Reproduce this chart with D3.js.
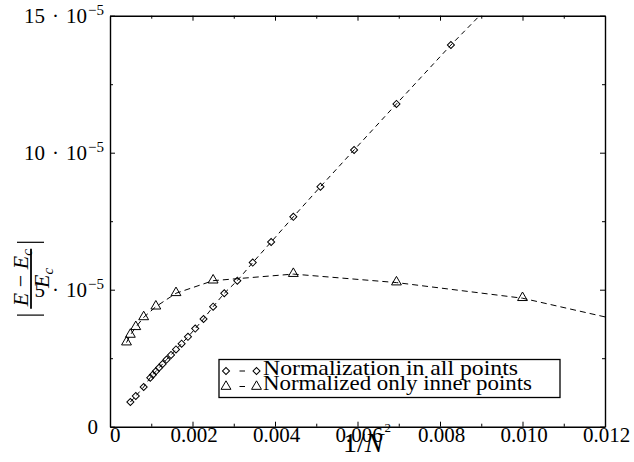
<!DOCTYPE html>
<html>
<head>
<meta charset="utf-8">
<script src="https://cdn.jsdelivr.net/npm/d3@7"></script>
<style>
  body { margin: 0; background: #fff; }
  svg text { font-family: "Liberation Serif", "Times New Roman", serif; fill: #000; }
</style>
</head>
<body>
<svg id="chart" width="634" height="462" font-family="Liberation Serif, serif"></svg>
<script>
// Values. x axis is 1/N^2, y is |E - Ec| / Ec
const allN = [10, 11, 12, 13, 14, 15, 16, 17, 18, 19, 20, 21, 22, 23, 24, 25, 26, 27, 28, 29, 30, 31, 32, 35, 40, 45]
const allErr = [16.6e-5, 13.93e-5, 11.78e-5, 10.10e-5, 8.76e-5, 7.66e-5, 6.74e-5, 5.99e-5, 5.33e-5, 4.87e-5,
  4.38e-5, 3.93e-5, 3.58e-5, 3.28e-5, 3.03e-5, 2.82e-5, 2.62e-5, 2.45e-5, 2.29e-5, 2.15e-5,
  2.02e-5, 1.90e-5, 1.79e-5, 1.45e-5, 1.12e-5, 0.90e-5]

const innerN = [8, 10, 12, 15, 20, 25, 30, 35, 40, 45, 50]
const innerErr = [2.77e-5, 4.69e-5, 5.26e-5, 5.57e-5, 5.33e-5, 4.87e-5, 4.38e-5, 3.99e-5, 3.63e-5, 3.35e-5, 3.07e-5]

const seriesNames = ["Normalization in all points", "Normalized only inner points"]

const xTicks = [0, 0.002, 0.004, 0.006, 0.008, 0.010, 0.012]
const xTickLabels = ["0", "0.002", "0.004", "0.006", "0.008", "0.010", "0.012"]
const xMinor = [0.001, 0.003, 0.005, 0.007, 0.009, 0.011]
const yTicks = [0, 5e-5, 10e-5, 15e-5]
const yTickLabels = ["0", "5", "10", "15"]
const yMinor = [2.5e-5, 7.5e-5, 12.5e-5]

let svg = d3.select("#chart")
let margin = {top: 15.7, right: 29, bottom: 35.3, left: 110}
let width = +svg.attr("width") - margin.left - margin.right
let height = +svg.attr("height") - margin.top - margin.bottom
let g = svg.append("g").attr("transform", "translate(" + margin.left + "," + margin.top + ")")

let x = d3.scaleLinear().domain([0, 0.012]).range([0, width])
let y = d3.scaleLinear().domain([0, 15e-5]).range([height, 0])

svg.append("defs").append("clipPath").attr("id", "plot-clip")
  .append("rect").attr("width", width).attr("height", height)

// build point lists
const toPts = (ns, errs) => ns.map((n, i) => ({ x: 1 / (n * n), y: errs[i] }))
  .sort((a, b) => a.x - b.x)
let allPts = toPts(allN, allErr)
let innerPts = toPts(innerN, innerErr)

// ticks pointing inward on all four sides
const axisStyle = (sel) => {
  sel.select(".domain").attr("stroke", "#000").attr("stroke-width", 1.4)
  sel.selectAll(".tick line").attr("stroke", "#000").attr("stroke-width", 1)
}
const addAxis = (maker, scale, vals, size, tr, withDomain) => {
  let a = g.append("g").attr("transform", tr)
    .call(maker(scale).tickValues(vals).tickSize(-size).tickSizeOuter(0).tickFormat(""))
  axisStyle(a)
  if (!withDomain) a.select(".domain").remove()
}
addAxis(d3.axisBottom, x, xTicks, 5, "translate(0," + height + ")", true)
addAxis(d3.axisBottom, x, xMinor, 3, "translate(0," + height + ")", false)
addAxis(d3.axisTop, x, xTicks, 5, "translate(0,0)", true)
addAxis(d3.axisTop, x, xMinor, 3, "translate(0,0)", false)
addAxis(d3.axisLeft, y, yTicks, 5, "translate(0,0)", true)
addAxis(d3.axisLeft, y, yMinor, 3, "translate(0,0)", false)
addAxis(d3.axisRight, y, yTicks, 5, "translate(" + width + ",0)", true)
addAxis(d3.axisRight, y, yMinor, 3, "translate(" + width + ",0)", false)

// x tick labels
g.selectAll(".xlab").data(xTicks).enter().append("text")
  .attr("class", "xlab")
  .attr("x", (d) => d === 0 ? x(d) : x(d) + 1.5)
  .attr("y", height + 15.3)
  .attr("text-anchor", (d) => d === 0 ? "start" : "middle")
  .style("font-size", "21px")
  .text((d, i) => xTickLabels[i])

// y tick labels: mantissa . 10^-5
yTicks.forEach((v, i) => {
  let t = g.append("text")
    .attr("y", y(v) + 7)
    .attr("text-anchor", "end")
    .style("font-size", "21px")
  if (v === 0) {
    t.attr("x", -12).text(yTickLabels[i])
  } else {
    t.attr("x", -6)
    t.append("tspan").text(yTickLabels[i] + "\u2004·\u200410")
    t.append("tspan").attr("dy", -7.5).attr("dx", 1).style("font-size", "15px").text("−5")
  }
})

// series
let line = d3.line().x((d) => x(d.x)).y((d) => y(d.y))
let plot = g.append("g").attr("clip-path", "url(#plot-clip)")

const diamond = d3.symbol().type(d3.symbolSquare).size(25)
const triangle = d3.symbol().type(d3.symbolTriangle).size(42)

plot.append("path").datum(allPts)
  .attr("d", line).attr("fill", "none").attr("stroke", "#000")
  .attr("stroke-width", 1).attr("stroke-dasharray", "5,4")
plot.append("path").datum(innerPts)
  .attr("d", line).attr("fill", "none").attr("stroke", "#000")
  .attr("stroke-width", 1).attr("stroke-dasharray", "6,4")

plot.selectAll(".dia").data(allPts).enter().append("path")
  .attr("class", "dia")
  .attr("d", diamond)
  .attr("transform", (d) => "translate(" + x(d.x) + "," + y(d.y) + ") rotate(45)")
  .attr("fill", "none").attr("stroke", "#000").attr("stroke-width", 1)
plot.selectAll(".tri").data(innerPts).enter().append("path")
  .attr("class", "tri")
  .attr("d", triangle)
  .attr("transform", (d) => "translate(" + x(d.x) + "," + (y(d.y) - 0.5) + ")")
  .attr("fill", "none").attr("stroke", "#000").attr("stroke-width", 1)

// legend
let legend = svg.append("g").attr("class", "legend").attr("transform", "translate(219,359.5)")
legend.append("rect").attr("width", 341).attr("height", 38)
  .attr("fill", "#fff").attr("stroke", "#000").attr("stroke-width", 1.3)
const legendRows = [
  {sym: diamond, rot: 45, cy: 11.5, base: 15.5, len: 255},
  {sym: triangle, rot: 0, cy: 27, base: 30.5, len: 269}
]
legendRows.forEach((r, i) => {
  let row = legend.append("g")
  ;[7, 37.5].forEach((cx) => {
    row.append("path").attr("d", r.sym)
      .attr("transform", "translate(" + cx + "," + r.cy + ") rotate(" + r.rot + ")")
      .attr("fill", "none").attr("stroke", "#000").attr("stroke-width", 1)
  })
  row.append("line").attr("x1", 20.5).attr("x2", 26).attr("y1", r.cy).attr("y2", r.cy)
    .attr("stroke", "#000").attr("stroke-width", 1)
  row.append("text").attr("x", 44).attr("y", r.base)
    .attr("textLength", r.len).attr("lengthAdjust", "spacingAndGlyphs")
    .style("font-size", "21px")
    .text(seriesNames[i])
})

// x axis title: 1/N^2
let xt = svg.append("text").attr("x", 343).attr("y", 452).style("font-size", "28px")
xt.append("tspan").text("1/")
xt.append("tspan").style("font-style", "italic").text("N")
xt.append("tspan").attr("dy", -20).attr("dx", 1).style("font-size", "13px").text("2")

// y axis title: |(E - Ec) / Ec|, rotated
let yt = svg.append("g").attr("transform", "translate(31,278.7) rotate(-90)")
yt.append("line").attr("x1", -30).attr("x2", 30).attr("y1", 0).attr("y2", 0)
  .attr("stroke", "#000").attr("stroke-width", 1.8)
;[-36.4, 36.4].forEach((bx) => {
  yt.append("line").attr("x1", bx).attr("x2", bx).attr("y1", -14).attr("y2", 13)
    .attr("stroke", "#000").attr("stroke-width", 1.2)
})
let num = yt.append("text").attr("x", 1).attr("y", -3).attr("text-anchor", "middle")
  .style("font-size", "22px").style("font-style", "italic")
num.append("tspan").text("E")
num.append("tspan").style("font-style", "normal").text(" − ")
num.append("tspan").text("E")
num.append("tspan").attr("dy", 4).style("font-size", "15px").text("c")
let den = yt.append("text").attr("x", 0.7).attr("y", 17.5).attr("text-anchor", "middle")
  .style("font-size", "22px").style("font-style", "italic")
den.append("tspan").text("E")
den.append("tspan").attr("dy", 4).style("font-size", "15px").text("c")
</script>
</body>
</html>
